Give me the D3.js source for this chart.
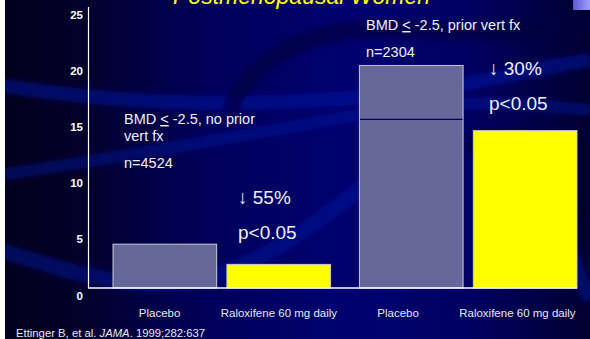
<!DOCTYPE html>
<html>
<head>
<meta charset="utf-8">
<script src="https://cdn.jsdelivr.net/npm/d3@7"></script>
<style>
  html, body { margin: 0; padding: 0; background: #ffffff; }
  svg { display: block; }
  text { font-family: "Liberation Sans", Arial, sans-serif; }
</style>
</head>
<body>
<svg id="chart" width="590" height="339"></svg>
<script>
// Vertebral fracture incidence (%) by baseline status and treatment arm
const groups = ["BMD ≤ -2.5, no prior vert fx", "BMD ≤ -2.5, prior vert fx"];
const arms = ["Placebo", "Raloxifene 60 mg daily"];
const placeboValues = [3.9, 19.8];
const raloxifeneValues = [2.1, 14.0];
const axisLabels = ["Placebo", "Raloxifene 60 mg daily", "Placebo", "Raloxifene 60 mg daily"];
const yTicks = [0, 5, 10, 15, 20, 25];
const sampleSizes = ["n=4524", "n=2304"];
const reductions = ["↓ 55%", "↓ 30%"];
const pValues = ["p<0.05", "p<0.05"];
const refLevel = 15;

const svg = d3.select("#chart");
const W = 590, H = 339;

// ---- background ----
const defs = svg.append("defs");
const bg = defs.append("linearGradient").attr("id", "bg").attr("x1", 0).attr("x2", 1).attr("y1", 0).attr("y2", 0);
[[0, "#02001c"], [0.12, "#030028"], [0.35, "#00005a"], [0.6, "#000070"], [0.8, "#000060"], [1, "#000030"]]
  .forEach(([o, c]) => bg.append("stop").attr("offset", o).attr("stop-color", c));
const sq = defs.append("linearGradient").attr("id", "sq").attr("x1", 0).attr("x2", 1);
sq.append("stop").attr("offset", 0).attr("stop-color", "#5a5ad0");
sq.append("stop").attr("offset", 1).attr("stop-color", "#a0a0ff");
defs.append("filter").attr("id", "soft").append("feGaussianBlur").attr("stdDeviation", 2.5);

svg.append("rect").attr("width", W).attr("height", H).attr("fill", "url(#bg)");

// decorative swooshes
const sw = svg.append("g").attr("filter", "url(#soft)").attr("fill", "none");
sw.append("path").attr("d", "M0,85 C120,105 260,108 380,95 S520,70 590,60")
  .attr("stroke", "#0a16a0").attr("stroke-width", 14).attr("opacity", 0.55);
sw.append("path").attr("d", "M0,175 C100,160 220,140 330,120 S480,100 590,110")
  .attr("stroke", "#0a14a0").attr("stroke-width", 12).attr("opacity", 0.45);
sw.append("path").attr("d", "M0,250 C80,275 150,300 230,270 S360,180 420,150")
  .attr("stroke", "#08129a").attr("stroke-width", 16).attr("opacity", 0.5);
sw.append("path").attr("d", "M230,110 C250,60 300,35 360,30 S470,40 590,25")
  .attr("stroke", "#00003a").attr("stroke-width", 18).attr("opacity", 0.6);
sw.append("path").attr("d", "M470,140 C520,160 560,200 590,215")
  .attr("stroke", "#00002a").attr("stroke-width", 22).attr("opacity", 0.6);
sw.append("path").attr("d", "M560,230 C575,260 585,290 590,300")
  .attr("stroke", "#0a14a0").attr("stroke-width", 14).attr("opacity", 0.5);

// left white strip and top-right block
svg.append("rect").attr("x", 0).attr("y", 0).attr("width", 5).attr("height", H).attr("fill", "#ffffff");
svg.append("rect").attr("x", 573).attr("y", 0).attr("width", 17).attr("height", 10).attr("fill", "url(#sq)");

// title (mostly above the visible area)
svg.append("text").attr("x", 173).attr("y", 4)
  .attr("font-size", 23).attr("font-style", "italic").attr("fill", "#ffff00")
  .text("Postmenopausal Women");

// ---- scales ----
const y = d3.scaleLinear().domain([0, 25]).range([288, 7]);
const x0 = d3.scaleBand().domain(groups).range([113, 577]).paddingInner(0.117).paddingOuter(0);
const x1 = d3.scaleBand().domain(arms).range([0, x0.bandwidth()]).paddingInner(0.09).paddingOuter(0);
const xl = d3.scaleBand().domain(d3.range(axisLabels.length)).range([100, 577]);

// ---- bars ----
const fills = { "Placebo": "#66689a", "Raloxifene 60 mg daily": "#ffff00" };
const rows = groups.map((g, i) => ({ group: g, values: [
  { arm: arms[0], v: placeboValues[i] },
  { arm: arms[1], v: raloxifeneValues[i] }
]}));

const gg = svg.selectAll("g.grp").data(rows).join("g").attr("class", "grp")
  .attr("transform", d => `translate(${x0(d.group)},0)`);
gg.selectAll("rect").data(d => d.values).join("rect")
  .attr("x", d => x1(d.arm))
  .attr("y", d => y(d.v))
  .attr("width", x1.bandwidth())
  .attr("height", d => y(0) - y(d.v))
  .attr("fill", d => fills[d.arm])
  .attr("stroke", "#c8c8d8")
  .attr("stroke-width", 1);

// reference rule through the taller placebo bar
svg.append("line")
  .attr("x1", x0(groups[1]) + x1(arms[0]) + 0.5)
  .attr("x2", x0(groups[1]) + x1(arms[0]) + x1.bandwidth() - 0.5)
  .attr("y1", y(refLevel)).attr("y2", y(refLevel))
  .attr("stroke", "#000060").attr("stroke-width", 1.2);

// ---- axes ----
svg.append("line").attr("x1", 88.5).attr("x2", 88.5).attr("y1", y(25)).attr("y2", y(0))
  .attr("stroke", "#ffffff").attr("stroke-width", 1.2);
svg.append("line").attr("x1", 88).attr("x2", 577).attr("y1", y(0)).attr("y2", y(0))
  .attr("stroke", "#ffffff").attr("stroke-width", 1.5);

const yAxis = d3.axisLeft(y).tickValues(yTicks).tickSize(0).tickPadding(6);
const ya = svg.append("g").attr("transform", "translate(89,7.5)").call(yAxis);
ya.select(".domain").remove();
ya.selectAll("text").attr("fill", "#ffffff").attr("font-size", 11.5).attr("font-weight", "bold")
  .attr("font-family", "'Liberation Sans', Arial, sans-serif");

svg.selectAll("text.xl").data(axisLabels).join("text").attr("class", "xl")
  .attr("x", (d, i) => xl(i) + xl.bandwidth() / 2)
  .attr("y", 317)
  .attr("text-anchor", "middle")
  .attr("font-size", 11.5).attr("fill", "#e8e8f0")
  .text(d => d);

// ---- annotations ----
function bmdLine(sel, x, yy, tail) {
  const t = sel.append("text").attr("x", x).attr("y", yy).attr("font-size", 14.5).attr("fill", "#f0f0f8");
  t.append("tspan").text("BMD ");
  t.append("tspan").attr("text-decoration", "underline").text("<");
  t.append("tspan").text(" -2.5, " + tail);
  return t;
}
const ann = svg.append("g");
bmdLine(ann, 124, 124, "no prior");
ann.append("text").attr("x", 124).attr("y", 141).attr("font-size", 14.5).attr("fill", "#f0f0f8").text("vert fx");
ann.append("text").attr("x", 124).attr("y", 168).attr("font-size", 14.5).attr("fill", "#f0f0f8").text(sampleSizes[0]);
ann.append("text").attr("x", 238).attr("y", 204).attr("font-size", 19).attr("fill", "#f0f0f8").text(reductions[0]);
ann.append("text").attr("x", 238).attr("y", 239).attr("font-size", 19).attr("fill", "#f0f0f8").text(pValues[0]);

bmdLine(ann, 366, 30, "prior vert fx");
ann.append("text").attr("x", 366).attr("y", 57).attr("font-size", 14.5).attr("fill", "#f0f0f8").text(sampleSizes[1]);
ann.append("text").attr("x", 489).attr("y", 75).attr("font-size", 19).attr("fill", "#f0f0f8").text(reductions[1]);
ann.append("text").attr("x", 489).attr("y", 110).attr("font-size", 19).attr("fill", "#f0f0f8").text(pValues[1]);

// ---- source ----
const src = svg.append("text").attr("x", 16).attr("y", 337).attr("font-size", 11.3).attr("fill", "#e8e8f0");
src.append("tspan").text("Ettinger B, et al. ");
src.append("tspan").attr("font-style", "italic").text("JAMA");
src.append("tspan").text(". 1999;282:637");
</script>
</body>
</html>
